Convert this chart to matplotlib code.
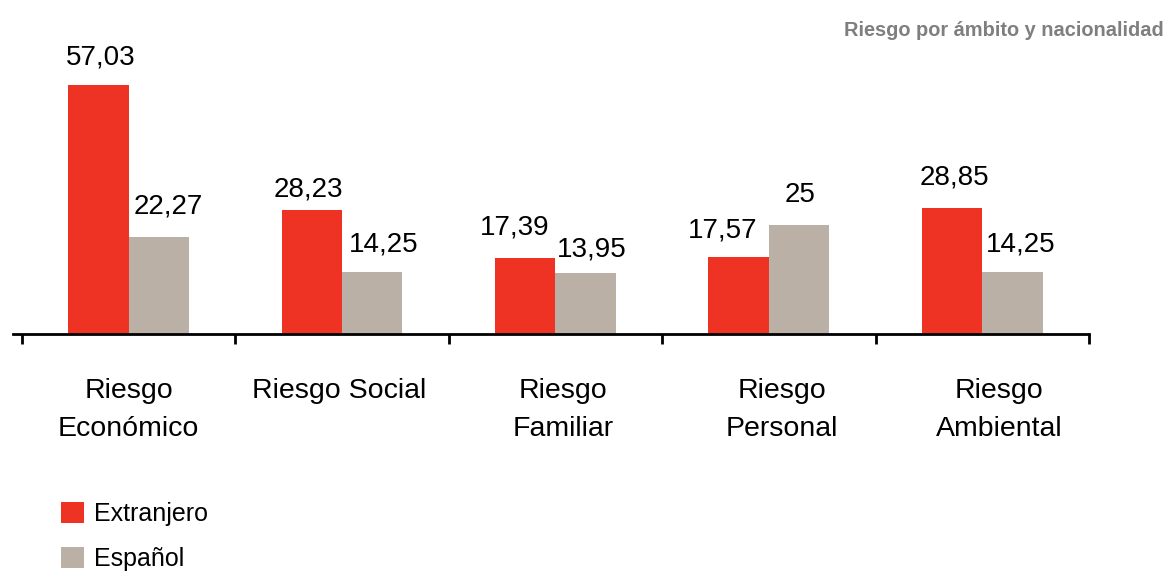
import matplotlib
matplotlib.use("Agg")
import matplotlib.pyplot as plt
import numpy as np
from matplotlib.patches import Patch

categories = ["Riesgo\nEconómico", "Riesgo Social", "Riesgo\nFamiliar", "Riesgo\nPersonal", "Riesgo\nAmbiental"]
extranjero = [57.03, 28.23, 17.39, 17.57, 28.85]
espanol = [22.27, 14.25, 13.95, 25, 14.25]
ext_labels = ["57,03", "28,23", "17,39", "17,57", "28,85"]
esp_labels = ["22,27", "14,25", "13,95", "25", "14,25"]
series_names = ["Extranjero", "Español"]
title = "Riesgo por ámbito y nacionalidad"

# label placement tweaks (pixels): horizontal shift, gap above bar
ext_dx = [2, -4, -11, -16, 2]
ext_gap = [20, 14, 23, 20, 23]
esp_dx = [9.5, 11, 6, 1, 8]
esp_gap = [23, 20, 16, 23, 20]
cat_dx = [0, -3, 8, 13, 17]

RED = "#EE3325"
GREY = "#BAB0A5"

plt.rcParams['font.family'] = ['Liberation Sans', 'DejaVu Sans']

W, H = 1176, 576
PX = 0.72  # points per pixel at dpi 100
fig = plt.figure(figsize=(W/100, H/100), dpi=100)
ax = fig.add_axes([13/W, (H-334)/H, (1089-13)/W, (334-60)/H])

x = np.arange(len(categories))
bw = 0.283
b1 = ax.bar(x - bw/2, extranjero, bw, color=RED, linewidth=0)
b2 = ax.bar(x + bw/2, espanol, bw, color=GREY, linewidth=0)

for bars, labs, dxs, gaps in [(b1, ext_labels, ext_dx, ext_gap), (b2, esp_labels, esp_dx, esp_gap)]:
    for rect, lab, dx, g in zip(bars, labs, dxs, gaps):
        ax.annotate(lab, (rect.get_x() + rect.get_width()/2, rect.get_height()),
                    xytext=(dx*PX, g*PX), textcoords='offset points', ha='center', va='baseline',
                    fontsize=20, color='black')

ax.set_xlim(-0.542, 4.5)
ax.set_ylim(0, (334-60)/((334-84.5)/57.03))

for s in ['top', 'right', 'left']:
    ax.spines[s].set_visible(False)
ax.spines['bottom'].set_linewidth(2)
ax.set_yticks([])
ax.set_xticks(np.arange(-0.5, 5.0, 1.0))
ax.set_xticklabels([])
ax.tick_params(axis='x', which='major', length=7.5, width=2, direction='out')

for xi, cat, dx in zip(x, categories, cat_dx):
    ax.annotate(cat, (xi, 0), xycoords=('data', 'axes fraction'),
                xytext=(dx*PX, -32), textcoords='offset points',
                ha='center', va='top', multialignment='center',
                fontsize=20.5, linespacing=1.57, color='black', annotation_clip=False)

fig.text(1164/W, 1 - 31/H, title, ha='right', va='center', fontsize=14.4,
         fontweight='bold', color='#7F7F7F')

handles = [Patch(facecolor=RED, edgecolor='none'), Patch(facecolor=GREY, edgecolor='none')]
fig.legend(handles, series_names, loc='upper left', bbox_to_anchor=(61/W, 1 - 502/H),
           frameon=False, fontsize=18, handlelength=0.92, handleheight=0.92,
           handletextpad=0.38, labelspacing=0.84, borderpad=0, borderaxespad=0)

fig.savefig("out.png", dpi=100)
